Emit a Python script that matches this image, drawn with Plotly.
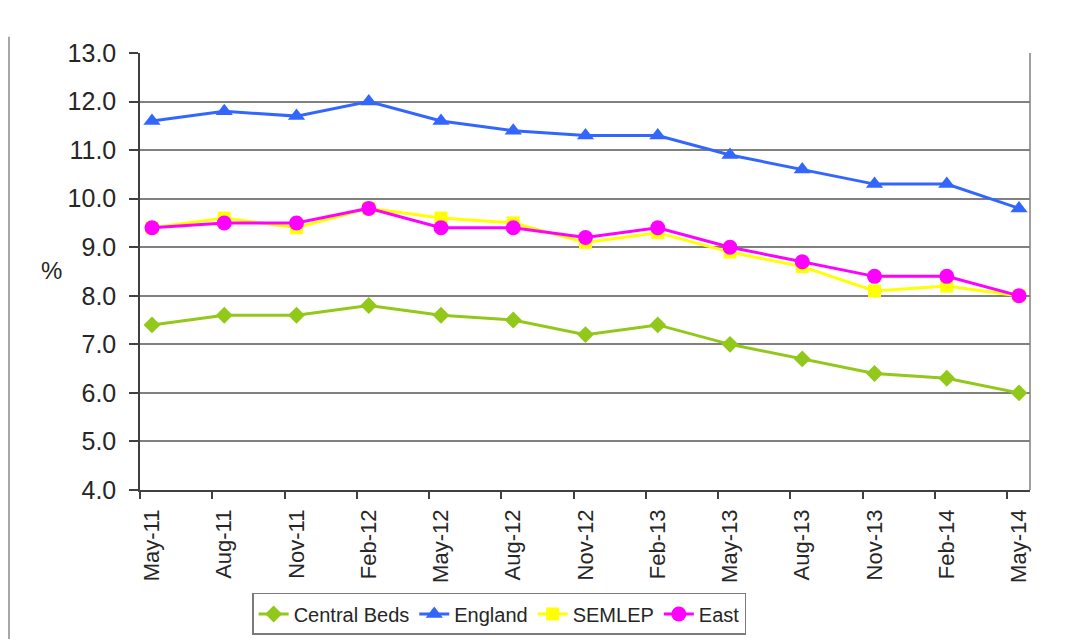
import plotly.graph_objects as go

# Claimant / unemployment rate by quarter (%)
months = ["May-11", "Aug-11", "Nov-11", "Feb-12", "May-12", "Aug-12", "Nov-12",
          "Feb-13", "May-13", "Aug-13", "Nov-13", "Feb-14", "May-14"]
central_beds = [7.4, 7.6, 7.6, 7.8, 7.6, 7.5, 7.2, 7.4, 7.0, 6.7, 6.4, 6.3, 6.0]
england = [11.6, 11.8, 11.7, 12.0, 11.6, 11.4, 11.3, 11.3, 10.9, 10.6, 10.3, 10.3, 9.8]
semlep = [9.4, 9.6, 9.4, 9.8, 9.6, 9.5, 9.1, 9.3, 8.9, 8.6, 8.1, 8.2, 8.0]
east = [9.4, 9.5, 9.5, 9.8, 9.4, 9.4, 9.2, 9.4, 9.0, 8.7, 8.4, 8.4, 8.0]
y_ticks = [4.0, 5.0, 6.0, 7.0, 8.0, 9.0, 10.0, 11.0, 12.0, 13.0]

xs = list(range(len(months)))

series = [
    ("Central Beds", central_beds, "#92C81A", "diamond", 13),
    ("England", england, "#3366FF", "triangle-up", 15),
    ("SEMLEP", semlep, "#FFFF00", "square", 13),
    ("East", east, "#FF00FF", "circle", 15),
]

fig = go.Figure()
for name, vals, color, symbol, size in series:
    fig.add_trace(go.Scatter(
        x=xs, y=vals, name=name, mode="lines+markers",
        line=dict(color=color, width=3),
        marker=dict(symbol=symbol, size=size, color=color, line=dict(width=0)),
    ))

text_color = "#262626"
family = "Liberation Sans, Arial, sans-serif"

fig.update_layout(
    width=1072, height=639,
    margin=dict(l=140, r=42, t=53, b=149),
    paper_bgcolor="white", plot_bgcolor="white",
    font=dict(family=family, size=22, color=text_color),
    showlegend=True,
    legend=dict(
        orientation="h", x=0.126, y=0.072, xanchor="left", yanchor="top",
        yref="container",
        bordercolor="#7a7a7a", borderwidth=1.5, bgcolor="white",
        font=dict(family=family, size=20, color=text_color),
        itemwidth=30, tracegroupgap=0,
    ),
    xaxis=dict(
        range=[-0.166, 12.152], tickmode="array", tickvals=xs, ticktext=months,
        tickangle=-90, ticks="", showgrid=False, zeroline=False,
        showline=True, linecolor="#404040", linewidth=1.5,
        tickfont=dict(family=family, size=22, color=text_color),
        ticklabelstandoff=9, automargin=False,
        minor=dict(ticks="outside", ticklen=7, tickwidth=1.5, tickcolor="#404040",
                   tickmode="linear", tick0=-0.166, dtick=1, showgrid=False),
    ),
    yaxis=dict(
        range=[4, 13], tickmode="array", tickvals=y_ticks, tickformat=".1f",
        ticks="outside", ticklen=9, tickwidth=1.5, tickcolor="#404040",
        showgrid=True, gridcolor="#808080", gridwidth=1.5, zeroline=False,
        showline=True, linecolor="#404040", linewidth=1.5,
        tickfont=dict(family=family, size=25, color=text_color),
        ticklabelstandoff=8, automargin=False,
    ),
    shapes=[
        # right-hand border of the plot area
        dict(type="line", xref="paper", yref="paper", x0=1, x1=1, y0=0, y1=1,
             line=dict(color="#808080", width=1.5)),
        # outer frame edge on the left
        dict(type="line", xref="paper", yref="paper", x0=-0.1472, x1=-0.1472,
             y0=1.037, y1=-0.35, line=dict(color="#8a8a8a", width=1.5)),
    ],
    annotations=[
        dict(text="%", xref="paper", yref="paper", x=-0.099, y=0.503,
             xanchor="center", yanchor="middle",
             showarrow=False, font=dict(family=family, size=24, color=text_color)),
    ],
)

fig.write_html("out.html")
